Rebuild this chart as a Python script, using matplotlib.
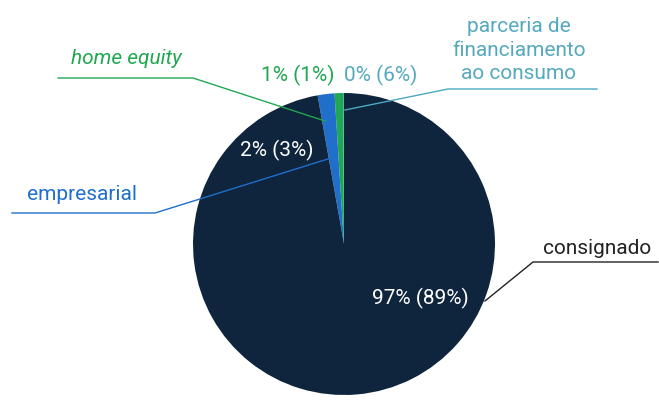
import matplotlib.pyplot as plt

# slices, counter-clockwise from the top
categories = ['parceria de\nfinanciamento\nao consumo', 'home equity', 'empresarial', 'consignado']
shares = [0.1, 0.9, 1.8, 97.2]
value_labels = ['0% (6%)', '1% (1%)', '2% (3%)', '97% (89%)']
colors = ['#4aa9c1', '#1fa84f', '#1f6fcb', '#0f243d']
text_colors = ['#55a9bf', '#1fa84f', '#1f6fcb', '#222222']
value_colors = ['#55a9bf', '#1fa84f', 'white', 'white']

W, H = 659, 404
plt.rcParams['font.family'] = ['Roboto', 'DejaVu Sans']

fig = plt.figure(figsize=(W / 100, H / 100), dpi=100)
ax = fig.add_axes([0, 0, 1, 1])


def Y(y):
    # pixel row (from top) -> data y
    return H - y


ax.pie(shares, colors=colors, startangle=90, counterclock=True,
       center=(344, Y(244)), radius=151, frame=True,
       wedgeprops=dict(linewidth=0))
ax.set_xlim(0, W)
ax.set_ylim(0, H)
ax.set_aspect('equal')
ax.axis('off')

fs = 15

# leader lines (pixel coords from top-left)
leaders = [
    [(345, 110), (448, 89), (597, 89)],
    [(325, 121), (193, 78), (58, 78)],
    [(331, 158), (155, 213), (12, 213)],
    [(485, 301), (533, 262), (658, 262)],
]
line_colors = ['#4aa9c1', '#1fa84f', '#1f6fcb', '#222222']
for pts, c in zip(leaders, line_colors):
    ax.plot([p[0] for p in pts], [Y(p[1]) for p in pts], color=c, lw=1)

# category labels
ax.text(519, Y(50), categories[0], color=text_colors[0], fontsize=fs, ha='center', va='center',
        linespacing=1.3)
ax.text(126, Y(58), categories[1], color=text_colors[1], fontsize=fs, ha='center', va='center',
        style='italic')
ax.text(82, Y(194), categories[2], color=text_colors[2], fontsize=fs, ha='center', va='center')
ax.text(597, Y(248), categories[3], color=text_colors[3], fontsize=fs, ha='center', va='center')

# value labels
ax.text(381, Y(75), value_labels[0], color=value_colors[0], fontsize=fs, ha='center', va='center')
ax.text(298, Y(75), value_labels[1], color=value_colors[1], fontsize=fs, ha='center', va='center')
ax.text(277, Y(150), value_labels[2], color=value_colors[2], fontsize=fs, ha='center', va='center')
ax.text(420, Y(298), value_labels[3], color=value_colors[3], fontsize=fs, ha='center', va='center')

fig.savefig('out.png', dpi=100)
